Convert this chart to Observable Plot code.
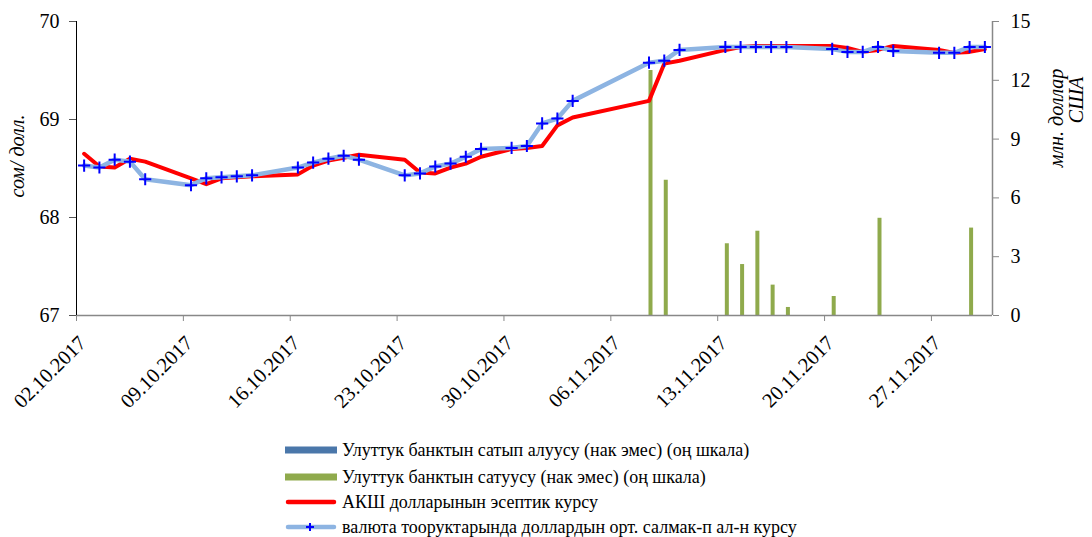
<!DOCTYPE html>
<html><head><meta charset="utf-8">
<script src="https://cdn.jsdelivr.net/npm/d3@7"></script>
<script src="https://cdn.jsdelivr.net/npm/@observablehq/plot@0.6"></script>
<style>
body{margin:0;background:#fff;font-family:"Liberation Serif","Times New Roman",Tinos,"DejaVu Serif",serif;color:#000;}
#wrap{position:relative;width:1092px;height:537px;}
#wrap svg text{font-family:"Liberation Serif","Times New Roman",Tinos,"DejaVu Serif",serif;}
.ttl{position:absolute;font-style:italic;font-size:20px;white-space:nowrap;transform:translate(-50%,-50%) rotate(-90deg);}
.lg{position:absolute;left:285px;height:24px;display:flex;align-items:center;font-size:18px;white-space:nowrap;}
.lg svg{margin-right:5px;}
</style></head><body>
<div id="wrap"><div id="chart"></div></div>
<script>
// ---- data ----
const dates = ["2017-10-02","2017-10-03","2017-10-04","2017-10-05","2017-10-06",
  "2017-10-09","2017-10-10","2017-10-11","2017-10-12","2017-10-13",
  "2017-10-16","2017-10-17","2017-10-18","2017-10-19","2017-10-20",
  "2017-10-23","2017-10-24","2017-10-25","2017-10-26","2017-10-27","2017-10-28",
  "2017-10-30","2017-10-31","2017-11-01","2017-11-02","2017-11-03",
  "2017-11-08","2017-11-09","2017-11-10",
  "2017-11-13","2017-11-14","2017-11-15","2017-11-16","2017-11-17",
  "2017-11-20","2017-11-21","2017-11-22","2017-11-23","2017-11-24",
  "2017-11-27","2017-11-28","2017-11-29","2017-11-30"];
const officialRate = [68.65,68.52,68.51,68.60,68.57,
  68.40,68.34,68.40,68.41,68.42,
  68.44,68.53,68.58,68.61,68.64,
  68.59,68.46,68.45,68.51,68.55,68.62,
  68.70,68.71,68.73,68.94,69.02,
  69.19,69.57,69.60,
  69.71,69.74,69.75,69.75,69.75,
  69.75,69.73,69.69,69.71,69.75,
  69.71,69.68,69.69,69.72];
const marketRate = [68.53,68.51,68.59,68.57,68.39,
  68.33,68.40,68.41,68.42,68.43,
  68.51,68.56,68.60,68.63,68.59,
  68.43,68.45,68.52,68.55,68.62,68.70,
  68.71,68.73,68.96,69.01,69.19,
  69.58,69.60,69.71,
  69.74,69.74,69.74,69.74,69.74,
  69.72,69.69,69.69,69.74,69.70,
  69.68,69.68,69.74,69.74];
const saleDates = ["2017-11-08","2017-11-09","2017-11-13","2017-11-14","2017-11-15","2017-11-16","2017-11-17","2017-11-20","2017-11-23","2017-11-29"];
const saleValues = [12.5,6.9,3.66,2.6,4.3,1.55,0.41,0.97,4.96,4.46];
const purchaseDates = [];   // no purchases in the period
const purchaseValues = [];
const xTickDates = ["2017-10-02","2017-10-09","2017-10-16","2017-10-23","2017-10-30","2017-11-06","2017-11-13","2017-11-20","2017-11-27"];
const xDomainDates = ["2017-10-02","2017-12-01"];
const leftTicks = [67,68,69,70];
const rightTicks = [0,3,6,9,12,15];
const legendLabels = [
  "Улуттук банктын сатып алуусу (нак эмес) (оң шкала)",
  "Улуттук банктын сатуусу (нак эмес) (оң шкала)",
  "АКШ долларынын эсептик курсу",
  "валюта тооруктарында доллардын орт. салмак-п ал-н курсу"
];
const leftTitle = "сом/ долл.";
const rightTitle = ["млн. доллар","США"];

// ---- build ----
const parse = d3.utcParse("%Y-%m-%d");
const mid = s => new Date(parse(s).getTime() + 12*3600e3);
const leftDomain = [leftTicks[0], leftTicks[leftTicks.length-1]];
const rightDomain = [rightTicks[0], rightTicks[rightTicks.length-1]];
const toLeft = v => leftDomain[0] + (v-rightDomain[0])*(leftDomain[1]-leftDomain[0])/(rightDomain[1]-rightDomain[0]);
const toRight = y => rightDomain[0] + (y-leftDomain[0])*(rightDomain[1]-rightDomain[0])/(leftDomain[1]-leftDomain[0]);
const rows = dates.map((d,i)=>({date:mid(d), official:officialRate[i], market:marketRate[i]}));
const sales = saleDates.map((d,i)=>({date:mid(d), y:toLeft(saleValues[i])}));
const purchases = purchaseDates.map((d,i)=>({date:mid(d), y:toLeft(purchaseValues[i])}));
const xDomain = xDomainDates.map(parse);
const xTicks = xTickDates.map(parse);
const fmt = d3.utcFormat("%d.%m.%Y");
const serif = "'Liberation Serif', 'Times New Roman', Tinos, 'DejaVu Serif', serif";

const chart = Plot.plot({
  width:1092, height:430,
  marginLeft:76, marginRight:100, marginTop:21, marginBottom:115,
  style:{fontFamily:serif, fontSize:"19px", color:"#000", background:"#fff", overflow:"visible"},
  x:{type:"utc", domain:xDomain},
  y:{domain:leftDomain},
  marks:[
    Plot.ruleX(purchases, {x:"date", y1:leftDomain[0], y2:"y", stroke:"#4a77aa", strokeWidth:4, dx:1.5}),
    Plot.ruleX(sales, {x:"date", y1:leftDomain[0], y2:"y", stroke:"#8faa4c", strokeWidth:4, dx:1.5}),
    Plot.ruleY([leftDomain[0]], {stroke:"#888", strokeWidth:1.5}),
    Plot.ruleX([xDomain[1]], {stroke:"#888", strokeWidth:1.5}),
    Plot.ruleX([xDomain[0]], {stroke:"#000", strokeWidth:1}),
    Plot.line(rows, {x:"date", y:"official", stroke:"#ff0000", strokeWidth:4, strokeLinejoin:"round"}),
    Plot.line(rows, {x:"date", y:"market", stroke:"#8db4e2", strokeWidth:4.5, strokeLinejoin:"round"}),
    Plot.dot(rows, {x:"date", y:"market", symbol:"plus", r:4, stroke:"#0000ff", strokeWidth:2}),
    Plot.axisY({ticks:leftTicks, tickSize:7, tickPadding:10, label:null, stroke:"#555", fontSize:20, tickFormat:d=>String(d)}),
    Plot.axisY({anchor:"right", ticks:rightTicks.map(toLeft), tickFormat:d=>String(Math.round(toRight(d))), tickSize:6, tickPadding:12, fontSize:20, label:null, stroke:"#888"}),
    Plot.axisX({ticks:xTicks, tickFormat:()=>"", tickSize:6, label:null, stroke:"#888"}),
    Plot.axisX({ticks:xTicks, tickFormat:fmt, tickRotate:-45, tickSize:0, tickPadding:24, fontSize:20.5, dx:6, label:null})
  ]
});
document.getElementById("chart").appendChild(chart);

const wrap = document.getElementById("wrap");
function addTitle(text, x, y){
  const el = document.createElement("div");
  el.className = "ttl"; el.textContent = text;
  el.style.left = x+"px"; el.style.top = y+"px";
  wrap.appendChild(el);
}
addTitle(leftTitle, 17, 156);
addTitle(rightTitle[0], 1056, 118);
addTitle(rightTitle[1], 1076, 100);

const swatches = [
  '<svg width="52" height="10"><rect x="0" y="1.5" width="52" height="7" fill="#4a77aa"/></svg>',
  '<svg width="52" height="10"><rect x="0" y="1.5" width="52" height="7" fill="#8faa4c"/></svg>',
  '<svg width="52" height="10"><line x1="3" y1="5" x2="49" y2="5" stroke="#ff0000" stroke-width="4.5" stroke-linecap="round"/></svg>',
  '<svg width="52" height="12"><line x1="3" y1="6" x2="49" y2="6" stroke="#8db4e2" stroke-width="4.5" stroke-linecap="round"/><path d="M21,6h8M25,2v8" stroke="#0000ff" stroke-width="2"/></svg>'
];
const rowY = [438, 465, 490, 515];
legendLabels.forEach((t,i)=>{
  const el = document.createElement("div");
  el.className = "lg"; el.style.top = rowY[i]+"px";
  el.innerHTML = swatches[i] + '<span></span>';
  el.querySelector("span").textContent = t;
  wrap.appendChild(el);
});
</script>
</body></html>
